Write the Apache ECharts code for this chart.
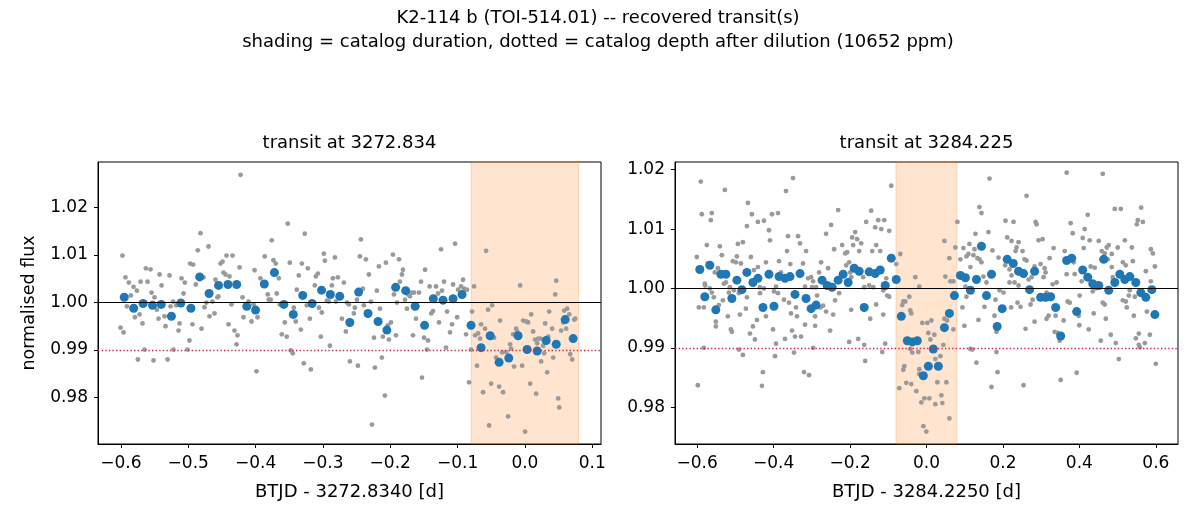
<!DOCTYPE html>
<html>
<head>
<meta charset="utf-8">
<script src="https://cdn.jsdelivr.net/npm/echarts@6/dist/echarts.min.js"></script>
<style>
  html, body {margin: 0; padding: 0; background: #fff;}
  #chart {width: 1196px; height: 520px;}
</style>
</head>
<body>
<div id="chart"></div>
<script>
const suptitle = "K2-114 b (TOI-514.01) -- recovered transit(s)\nshading = catalog duration, dotted = catalog depth after dilution (10652 ppm)";
const panel_titles = ["transit at 3272.834", "transit at 3284.225"];
const x_names = ["BTJD - 3272.8340 [d]", "BTJD - 3284.2250 [d]"];
const y_name = "normalised flux";

const catalog_depth_level = 0.989348;   // 1 - 10652 ppm
const half_duration = 0.0798;           // days

const left_x_ticks = [-0.6, -0.5, -0.4, -0.3, -0.2, -0.1, 0.0, 0.1];
const right_x_ticks = [-0.6, -0.4, -0.2, 0.0, 0.2, 0.4, 0.6];
const y_ticks = [0.98, 0.99, 1.00, 1.01, 1.02];

// raw cadences, first transit
const left_raw = [
  [-0.5977,1.0099],[-0.5932,1.0053],[-0.5882,1.0042],[-0.5852,1.0015],[-0.5911,0.9992],[-0.5812,1.0033],[-0.5763,1.0025],[-0.5793,0.9969],
  [-0.6006,0.9947],[-0.5961,0.9937],[-0.5723,0.9975],[-0.5708,1.0044],[-0.5679,0.9956],[-0.5629,1.0072],[-0.5560,1.0070],[-0.5604,1.0044],
  [-0.5545,1.0021],[-0.5500,1.0011],[-0.5649,0.9901],[-0.5748,0.9880],[-0.5515,0.9878],[-0.5466,0.9985],[-0.5441,0.9966],[-0.5426,1.0059],
  [-0.5396,1.0036],[-0.5352,0.9971],[-0.5337,0.9950],[-0.5307,0.9880],[-0.5278,1.0057],[-0.5263,0.9992],[-0.5224,1.0002],[-0.5219,0.9901],
  [-0.5179,0.9994],[-0.5144,0.9941],[-0.5129,0.9956],[-0.5100,1.0051],[-0.5070,1.0019],[-0.5051,1.0042],[-0.5011,0.9901],[-0.4982,0.9920],
  [-0.4972,1.0082],[-0.4927,1.0080],[-0.4937,0.9954],[-0.4887,1.0038],[-0.4858,1.0110],[-0.4818,1.0146],[-0.4773,1.0053],[-0.4803,0.9945],
  [-0.4759,0.9990],[-0.4729,1.0000],[-0.4699,1.0118],[-0.4684,0.9971],[-0.4640,1.0002],[-0.4610,0.9977],[-0.4595,1.0048],[-0.4566,1.0011],
  [-0.4551,1.0013],[-0.4521,1.0082],[-0.4491,1.0086],[-0.4476,1.0063],[-0.4447,1.0059],[-0.4432,1.0099],[-0.4402,0.9954],[-0.4387,1.0055],
  [-0.4357,0.9996],[-0.4342,1.0099],[-0.4313,0.9941],[-0.4268,0.9931],[-0.4283,0.9912],[-0.4238,1.0074],[-0.4223,1.0269],[-0.4194,1.0011],
  [-0.4179,0.9969],[-0.4104,1.0002],[-0.4060,0.9960],[-0.4030,0.9996],[-0.4015,1.0068],[-0.3986,0.9855],[-0.3971,0.9969],[-0.3928,1.0051],
  [-0.3864,1.0097],[-0.3819,1.0017],[-0.3804,1.0006],[-0.3775,1.0006],[-0.3760,1.0131],[-0.3735,1.0089],[-0.3700,1.0082],[-0.3685,1.0019],
  [-0.3655,1.0051],[-0.3640,0.9996],[-0.3611,0.9933],[-0.3566,0.9958],[-0.3537,0.9928],[-0.3522,1.0166],[-0.3492,1.0084],[-0.3477,0.9899],
  [-0.3447,0.9893],[-0.3432,0.9989],[-0.3403,0.9960],[-0.3388,1.0027],[-0.3358,1.0057],[-0.3328,0.9943],[-0.3313,1.0082],[-0.3284,0.9872],
  [-0.3269,1.0145],[-0.3239,0.9994],[-0.3224,1.0072],[-0.3194,0.9966],[-0.3179,0.9859],[-0.3120,1.0036],[-0.3105,1.0055],[-0.3075,1.0061],
  [-0.3060,0.9989],[-0.3031,0.9928],[-0.3016,0.9979],[-0.2986,1.0103],[-0.2971,1.0088],[-0.2941,1.0004],[-0.2911,1.0002],[-0.2896,0.9909],
  [-0.2867,1.0036],[-0.2852,1.0051],[-0.2822,1.0095],[-0.2807,1.0002],[-0.2778,1.0053],[-0.2718,0.9966],[-0.2689,1.0042],[-0.2659,0.9939],
  [-0.2644,1.0000],[-0.2614,0.9996],[-0.2599,0.9876],[-0.2540,0.9977],[-0.2525,0.9989],[-0.2495,1.0006],[-0.2480,0.9867],[-0.2451,1.0097],
  [-0.2436,1.0133],[-0.2406,1.0029],[-0.2391,0.9994],[-0.2361,1.0091],[-0.2317,1.0059],[-0.2287,1.0002],[-0.2272,0.9743],[-0.2242,0.9926],
  [-0.2228,0.9863],[-0.2198,1.0025],[-0.2168,1.0076],[-0.2153,0.9987],[-0.2124,0.9884],[-0.2109,0.9928],[-0.2079,0.9804],[-0.2064,1.0084],
  [-0.2035,0.9952],[-0.2020,0.9922],[-0.1990,0.9958],[-0.1960,1.0101],[-0.1945,1.0017],[-0.1915,0.9931],[-0.1900,1.0000],[-0.1870,1.0091],
  [-0.1856,1.0044],[-0.1826,1.0059],[-0.1811,1.0069],[-0.1781,1.0006],[-0.1751,0.9987],[-0.1736,1.0017],[-0.1707,1.0013],[-0.1677,1.0021],
  [-0.1662,0.9931],[-0.1647,1.0021],[-0.1618,0.9966],[-0.1573,1.0021],[-0.1543,1.0044],[-0.1528,0.9842],[-0.1498,0.9926],[-0.1483,1.0069],
  [-0.1454,0.9901],[-0.1439,0.9920],[-0.1415,1.0034],[-0.1390,0.9977],[-0.1365,0.9982],[-0.1320,1.0034],[-0.1290,1.0019],[-0.1276,0.9958],
  [-0.1246,1.0112],[-0.1231,1.0025],[-0.1201,1.0044],[-0.1156,0.9981],[-0.1172,0.9905],[-0.1112,0.9937],[-0.1082,0.9954],[-0.1067,1.0038],
  [-0.1037,1.0124],[-0.1007,0.9969],[-0.0992,1.0027],[-0.0948,1.0034],[-0.0919,1.0048],[-0.0904,1.0029],[-0.0874,0.9933],[-0.0859,1.0027],
  [-0.0830,0.9832],[-0.0800,0.9901],[-0.0785,0.9981],[-0.0755,1.0034],[-0.0740,0.9931],[-0.0711,0.9867],[-0.0696,0.9935],[-0.0666,0.9924],
  [-0.0651,0.9954],[-0.0621,0.9811],[-0.0592,0.9945],[-0.0577,1.0109],[-0.0547,0.9985],[-0.0532,0.9741],[-0.0502,0.9829],[-0.0487,0.9994],
  [-0.0458,0.9926],[-0.0428,0.9884],[-0.0383,0.9823],[-0.0368,0.9962],[-0.0339,0.9895],[-0.0324,0.9811],[-0.0279,0.9895],[-0.0249,0.9760],
  [-0.0220,0.9912],[-0.0205,0.9903],[-0.0175,0.9933],[-0.0160,0.9865],[-0.0130,0.9945],[-0.0116,0.9939],[-0.0071,1.0036],[-0.0041,0.9867],
  [-0.0026,0.9962],[0.0003,0.9728],[0.0018,0.9960],[0.0048,0.9958],[0.0078,0.9829],[0.0093,0.9975],[0.0122,0.9939],[0.0152,0.9922],
  [0.0167,0.9808],[0.0182,0.9914],[0.0197,0.9924],[0.0227,0.9924],[0.0241,0.9876],[0.0271,0.9909],[0.0286,0.9893],[0.0301,0.9956],
  [0.0331,0.9853],[0.0346,0.9928],[0.0360,0.9981],[0.0405,0.9945],[0.0420,0.9884],[0.0450,1.0017],[0.0465,1.0046],[0.0494,0.9798],
  [0.0509,0.9779],[0.0539,0.9941],[0.0569,0.9958],[0.0584,0.9983],[0.0613,0.9945],[0.0628,0.9987],[0.0658,0.9975],[0.0673,0.9891],
  [0.0702,0.9880],[0.0732,0.9964],[0.0747,0.9966]
];

// 20-min bins, first transit
const left_binned = [
  [-0.595,1.0011],[-0.581,0.9988],[-0.567,0.9998],[-0.553,0.9994],[-0.540,0.9996],[-0.525,0.9971],[-0.511,0.9999],[-0.496,0.9988],
  [-0.483,1.0054],[-0.469,1.0019],[-0.455,1.0036],[-0.441,1.0038],[-0.428,1.0038],[-0.413,0.9992],[-0.400,0.9984],[-0.387,1.0039],
  [-0.372,1.0063],[-0.358,0.9996],[-0.344,0.9975],[-0.330,1.0015],[-0.316,0.9998],[-0.302,1.0026],[-0.289,1.0017],[-0.275,1.0013],
  [-0.260,0.9958],[-0.247,1.0022],[-0.233,0.9977],[-0.218,0.9960],[-0.205,0.9942],[-0.192,1.0032],[-0.177,1.0025],[-0.163,0.9992],
  [-0.149,0.9952],[-0.136,1.0008],[-0.1216,1.0005],[-0.1067,1.0008],[-0.0934,1.0017],[-0.080,0.9952],[-0.0651,0.9905],[-0.0517,0.9930],
  [-0.0383,0.9874],[-0.0239,0.9883],[-0.0101,0.9930],[0.0033,0.9901],[0.0182,0.9898],[0.0316,0.9920],[0.0465,0.9912],[0.0598,0.9964],
  [0.0717,0.9924]
];

// raw cadences, second transit
const right_raw = [
  [-0.5905,1.0180],[-0.5879,1.0125],[-0.5617,1.0127],[-0.5643,1.0115],[-0.5276,1.0166],[-0.5747,1.0073],[-0.5406,1.0071],[-0.5354,1.0056],
  [-0.6010,1.0053],[-0.5721,1.0042],[-0.5459,1.0034],[-0.5538,1.0027],[-0.5800,1.0008],[-0.5790,1.0005],[-0.5669,1.0000],[-0.5617,0.9993],
  [-0.5564,0.9985],[-0.5826,0.9968],[-0.5957,0.9968],[-0.5433,0.9972],[-0.5328,0.9980],[-0.5512,0.9944],[-0.5512,0.9936],[-0.5197,0.9953],
  [-0.5118,0.9931],[-0.5092,0.9927],[-0.5826,0.9900],[-0.5983,0.9837],[-0.5302,1.0008],[-0.5249,1.0010],[-0.5144,1.0002],[-0.5066,1.0046],
  [-0.4987,1.0044],[-0.4961,1.0054],[-0.4935,1.0075],[-0.4804,1.0078],[-0.4856,1.0042],[-0.5170,0.9993],[-0.5039,0.9997],[-0.4909,0.9992],
  [-0.4699,0.9985],[-0.4725,0.9966],[-0.4882,0.9956],[-0.4673,1.0144],[-0.4568,1.0125],[-0.4699,1.0105],[-0.4410,1.0112],[-0.4253,1.0114],
  [-0.4594,1.0053],[-0.4515,1.0031],[-0.4410,1.0036],[-0.4357,1.0002],[-0.4357,0.9992],[-0.4200,1.0044],[-0.4253,1.0000],[-0.4541,0.9936],
  [-0.4489,0.9914],[-0.4620,0.9924],[-0.4436,0.9947],[-0.4200,0.9953],[-0.4909,0.9897],[-0.4804,0.9888],[-0.4279,0.9859],[-0.4305,0.9836],
  [-0.4122,1.0098],[-0.4095,1.0081],[-0.4043,1.0125],[-0.3886,1.0127],[-0.3859,1.0046],[-0.3807,1.0027],[-0.3938,1.0003],[-0.3886,0.9992],
  [-0.3990,0.9995],[-0.4016,0.9931],[-0.3938,0.9907],[-0.3964,0.9886],[-0.3676,1.0164],[-0.3493,1.0186],[-0.3624,1.0088],[-0.3650,1.0063],
  [-0.3563,1.0041],[-0.3729,0.9981],[-0.3597,0.9976],[-0.3545,0.9958],[-0.3702,0.9915],[-0.3519,0.9929],[-0.3466,0.9892],[-0.3414,0.9968],
  [-0.3388,0.9953],[-0.3361,1.0088],[-0.3309,1.0076],[-0.3151,1.0063],[-0.3230,1.0042],[-0.3178,1.0003],[-0.3099,1.0017],[-0.3020,1.0019],
  [-0.2994,1.0002],[-0.2863,0.9988],[-0.2967,1.0012],[-0.2758,1.0044],[-0.2810,1.0027],[-0.2889,1.0002],[-0.2775,0.9968],[-0.2705,0.9971],
  [-0.2627,0.9961],[-0.2574,1.0034],[-0.2496,1.0107],[-0.2627,1.0092],[-0.2417,1.0066],[-0.2312,1.0132],[-0.2286,0.9992],[-0.2391,0.9980],
  [-0.2443,0.9956],[-0.2522,0.9929],[-0.2915,0.9953],[-0.2915,0.9937],[-0.3178,0.9939],[-0.3283,0.9919],[-0.3440,0.9919],[-0.2967,0.9900],
  [-0.3204,0.9859],[-0.3073,0.9854],
  [-0.2207,1.0073],[-0.2128,1.0059],[-0.2076,1.0061],[-0.2102,1.0039],[-0.2024,1.0044],[-0.1998,1.0027],[-0.1971,1.0019],[-0.1945,1.0086],
  [-0.1919,1.0073],[-0.1866,1.0095],[-0.1814,1.0083],[-0.1761,1.0063],[-0.1709,1.0076],[-0.1656,1.0019],[-0.1630,1.0002],[-0.1578,1.0112],
  [-0.1499,1.0005],[-0.1447,1.0131],[-0.1420,1.0063],[-0.1394,1.0002],[-0.1342,1.0103],[-0.1316,1.0073],[-0.1263,1.0115],[-0.1211,1.0063],
  [-0.1184,1.0100],[-0.1106,1.0115],[-0.0975,1.0097],[-0.0922,1.0173],[-0.0975,0.9986],[-0.1027,0.9988],[-0.1132,0.9997],[-0.1053,1.0017],
  [-0.1132,0.9956],[-0.1316,0.9973],[-0.1473,0.9949],[-0.1630,0.9905],[-0.1604,0.9878],[-0.1788,0.9915],[-0.1971,0.9964],[-0.2024,0.9910],
  [-0.1080,0.9907],[-0.1158,0.9893],[-0.0791,1.0041],[-0.0686,1.0058],[-0.0634,0.9972],[-0.0607,0.9978],[-0.0555,0.9978],[-0.0450,0.9986],
  [-0.0424,0.9963],[-0.0398,0.9958],[-0.0293,1.0019],[-0.0188,1.0003],[-0.0581,0.9869],[-0.0607,0.9863],[-0.0712,0.9832],[-0.0529,0.9841],
  [-0.0398,0.9839],[-0.0267,0.9827],[-0.0188,0.9864],[-0.0188,0.9856],[-0.0135,0.9808],[-0.0057,0.9815],[0.0074,0.9815],[-0.0109,0.9942],
  [0.0022,0.9942],[0.0127,0.9946],[0.0048,0.9925],[0.0101,0.9914],[-0.0371,0.9892],[-0.0424,0.9898],[-0.0214,0.9893],[0.0205,0.9922],
  [0.0232,0.9881],[0.0363,0.9886],[0.0441,0.9905],[0.0284,0.9842],[0.0232,0.9805],[0.0389,0.9820],[0.0415,0.9807],[0.0520,0.9842],
  [0.0599,0.9781],[-0.0083,0.9768],[-0.0004,0.9759],[0.0468,0.9949],[0.0538,0.9946],[0.0494,1.0020],[0.0468,1.0080],[0.0599,1.0051],
  [0.0704,0.9931],[0.0756,1.0069],[0.0809,1.0112],[0.0704,1.0012],[0.0625,1.0012],[0.0887,1.0049],[0.0966,1.0068],[0.1045,1.0054],
  [0.1097,1.0058],[0.1123,1.0075],[0.1254,1.0066],[0.1228,1.0056],[0.1333,1.0051],[0.1385,1.0049],[0.1438,1.0044],[0.1281,1.0092],
  [0.1385,1.0137],[0.1438,1.0127],[0.1149,1.0036],[0.0940,1.0019],[0.1018,1.0003],[0.1045,0.9986],[0.0940,0.9968],[0.0992,0.9937],
  [0.1359,0.9947],[0.1517,0.9969],[0.1490,1.0020],[0.1569,1.0010],[0.1621,1.0095],[0.1648,1.0185],[0.1726,1.0064],[0.1805,0.9981],
  [0.1779,0.9954],[0.1884,1.0052],[0.1910,0.9997],[0.1831,0.9927],[0.1700,0.9834],[0.1307,0.9875],[0.1858,0.9859],[0.1149,0.9898],
  [0.1202,0.9897],[0.1831,0.9893],
  [0.2067,1.0114],[0.2277,1.0112],[0.2111,1.0086],[0.2225,1.0080],[0.2356,1.0069],[0.2408,1.0078],[0.2330,1.0063],[0.2513,1.0063],
  [0.2566,1.0049],[0.2618,1.0047],[0.2058,1.0039],[0.2172,1.0032],[0.2225,1.0022],[0.2303,1.0010],[0.2172,1.0010],[0.2408,1.0005],
  [0.2015,0.9993],[0.2216,0.9968],[0.2382,0.9976],[0.2461,0.9969],[0.2618,1.0156],[0.2592,0.9932],[0.2539,0.9837],[0.2828,0.9944],
  [0.2723,0.9973],[0.2776,0.9981],[0.2749,1.0019],[0.2670,1.0015],[0.2828,1.0037],[0.2854,1.0112],[0.2880,1.0108],[0.2932,1.0081],
  [0.3037,1.0083],[0.2985,1.0041],[0.3090,1.0034],[0.3116,1.0027],[0.3064,1.0019],[0.3142,0.9993],[0.3221,1.0051],[0.3326,1.0068],
  [0.3300,1.0007],[0.3405,1.0010],[0.3142,0.9949],[0.3195,0.9954],[0.3378,0.9954],[0.3352,0.9927],[0.3431,0.9925],[0.3484,0.9912],
  [0.3588,0.9946],[0.3693,0.9978],[0.3746,0.9976],[0.3615,1.0063],[0.3510,0.9846],[0.3667,1.0195],[0.3772,1.0110],[0.3824,1.0093],
  [0.3851,1.0044],[0.3877,1.0024],[0.3667,1.0024],[0.4008,0.9988],[0.3982,0.9954],[0.3999,0.9938],[0.3929,0.9858],[0.4060,1.0012],
  [0.4086,1.0085],[0.4113,1.0068],[0.4139,1.0100],[0.4218,1.0124],[0.4270,1.0081],[0.4296,1.0037],[0.4401,1.0035],[0.4427,1.0000],
  [0.4349,0.9995],[0.4244,0.9931],[0.4375,0.9958],[0.4506,1.0080],[0.4585,1.0063],[0.4559,0.9912],[0.4611,1.0193],[0.4663,1.0059],
  [0.4716,1.0069],[0.4742,1.0049],[0.4768,1.0073],[0.4847,1.0058],[0.4847,1.0036],[0.4873,1.0019],[0.4611,0.9976],[0.4663,0.9973],
  [0.4690,0.9949],[0.4821,0.9922],[0.4952,0.9908],[0.4926,1.0134],[0.5083,1.0134],[0.5031,0.9881],[0.5004,1.0069],[0.5188,1.0081],
  [0.5214,1.0039],[0.5136,1.0044],[0.5136,0.9980],[0.5214,0.9978],[0.5240,0.9968],[0.5293,0.9988],[0.5372,1.0069],[0.5398,1.0046],
  [0.5424,0.9954],[0.5476,0.9916],[0.5555,0.9924],[0.5555,0.9905],[0.5581,0.9901],[0.5616,1.0136],[0.5503,1.0108],[0.5529,1.0115],
  [0.5660,1.0112],[0.5712,0.9908],[0.5739,1.0029],[0.5765,0.9961],[0.5870,1.0066],[0.5922,1.0059],[0.5975,1.0037],[0.5870,1.0012],
  [0.5844,0.9922],[0.5999,0.9873],[0.5450,0.9986],[0.5319,0.9997]
];

// 20-min bins, second transit
const right_binned = [
  [-0.5931,1.0032],[-0.5800,0.9986],[-0.5669,1.0039],[-0.5512,0.9964],[-0.5380,1.0024],[-0.5249,1.0024],[-0.5092,0.9983],[-0.4961,1.0014],
  [-0.4830,0.9998],[-0.4699,1.0027],[-0.4541,1.0010],[-0.4410,1.0017],[-0.4279,0.9968],[-0.4122,1.0024],[-0.3990,0.9970],[-0.3859,1.0020],
  [-0.3702,1.0017],[-0.3571,1.0020],[-0.3440,0.9990],[-0.3309,1.0025],[-0.3151,0.9983],[-0.3020,0.9966],[-0.2889,0.9972],[-0.2732,1.0014],
  [-0.2600,1.0005],[-0.2469,1.0002],[-0.2312,1.0014],[-0.2181,1.0024],[-0.2050,1.0010],[-0.1893,1.0034],[-0.1761,1.0029],[-0.1630,0.9968],
  [-0.1500,1.0028],[-0.1342,1.0025],[-0.1211,1.0031],[-0.1080,1.0005],[-0.0922,1.0051],[-0.0791,1.0015],[-0.0660,0.9953],[-0.0503,0.9912],
  [-0.0371,0.9910],[-0.0240,0.9912],[-0.0083,0.9853],[0.0048,0.9869],[0.0179,0.9898],[0.0310,0.9869],[0.0468,0.9934],[0.0599,0.9958],
  [0.0730,0.9988],[0.0887,1.0022],[0.1018,1.0018],[0.1149,0.9997],[0.1307,1.0015],[0.1438,1.0071],[0.1569,0.9988],[0.1700,1.0024],
  [0.1849,0.9936],[0.1980,0.9966],[0.2111,1.0049],[0.2269,1.0042],[0.2408,1.0029],[0.2539,1.0025],[0.2697,0.9998],[0.2828,1.0029],
  [0.2985,0.9985],[0.3116,0.9985],[0.3247,0.9986],[0.3379,0.9968],[0.3510,0.9920],[0.3667,1.0047],[0.3798,1.0051],[0.3929,0.9961],
  [0.4086,1.0031],[0.4218,1.0019],[0.4349,1.0008],[0.4506,1.0005],[0.4637,1.0049],[0.4768,0.9997],[0.4926,1.0010],[0.5057,1.0024],
  [0.5188,1.0015],[0.5319,1.0020],[0.5476,1.0010],[0.5607,0.9993],[0.5739,0.9985],[0.5896,0.9998],[0.5975,0.9956]
];


const FONT = "DejaVu Sans";
const minus = (s) => s.replace("-", "\u2212");

function xAxisFor(grid_index, min, max, ticks, name){
    return {
        type: "value", gridIndex: grid_index, min, max,
        name, nameLocation: "middle", nameGap: 39,
        nameTextStyle: {fontFamily: FONT, fontSize: 18, color: "#000"},
        axisLine: {show: true, onZero: false, lineStyle: {color: "#000", width: 1}},
        axisTick: {show: true, length: 4, customValues: ticks, lineStyle: {color: "#000"}},
        axisLabel: {
            customValues: ticks, margin: 11,
            fontFamily: FONT, fontSize: 17, color: "#000",
            formatter: (v) => minus(v.toFixed(1))
        },
        splitLine: {show: false}
    };
}

function yAxisFor(grid_index, min, max, name){
    return {
        type: "value", gridIndex: grid_index, min, max,
        name, nameLocation: "middle", nameGap: 60,
        nameTextStyle: {fontFamily: FONT, fontSize: 17.5, color: "#000"},
        axisLine: {show: true, onZero: false, lineStyle: {color: "#000", width: 1}},
        axisTick: {show: true, length: 4, customValues: y_ticks, lineStyle: {color: "#000"}},
        axisLabel: {
            customValues: y_ticks, margin: 10,
            fontFamily: FONT, fontSize: 17, color: "#000",
            formatter: (v) => v.toFixed(2)
        },
        splitLine: {show: false}
    };
}

function panelSeries(idx, raw, binned){
    return [
        {   // catalog duration shading
            type: "scatter", xAxisIndex: idx, yAxisIndex: idx, data: [], z: 1, silent: true,
            markArea: {
                silent: true,
                itemStyle: {color: "rgba(255,127,14,0.2)", borderColor: "rgba(255,127,14,0.25)", borderWidth: 1},
                data: [[{xAxis: -half_duration}, {xAxis: half_duration}]]
            }
        },
        {
            type: "scatter", xAxisIndex: idx, yAxisIndex: idx, data: raw, z: 2,
            symbolSize: 4.8, itemStyle: {color: "#9a9a9a", opacity: 1}, silent: true
        },
        {   // reference levels
            type: "scatter", xAxisIndex: idx, yAxisIndex: idx, data: [], z: 3, silent: true,
            markLine: {
                silent: true, symbol: "none", label: {show: false}, animation: false,
                data: [
                    {yAxis: 1.0, lineStyle: {color: "#000", width: 1, type: "solid"}},
                    {yAxis: catalog_depth_level, lineStyle: {color: "#d62746", width: 1.4, type: [1.4, 2.2]}}
                ]
            }
        },
        {
            type: "scatter", xAxisIndex: idx, yAxisIndex: idx, data: binned, z: 4,
            symbolSize: 9, itemStyle: {color: "#1f77b4", opacity: 1}, silent: true
        }
    ];
}

const chart = echarts.init(document.getElementById("chart"), null, {renderer: "canvas"});
chart.setOption({
    animation: false,
    backgroundColor: "#fff",
    title: [
        {
            text: suptitle, left: 598, top: 6, padding: 0, textAlign: "center",
            textStyle: {fontFamily: FONT, fontSize: 18, fontWeight: "normal", color: "#000", lineHeight: 24}
        },
        {
            text: panel_titles[0], left: 349.5, top: 134, padding: 0, textAlign: "center",
            textStyle: {fontFamily: FONT, fontSize: 18, fontWeight: "normal", color: "#000"}
        },
        {
            text: panel_titles[1], left: 926.5, top: 134, padding: 0, textAlign: "center",
            textStyle: {fontFamily: FONT, fontSize: 18, fontWeight: "normal", color: "#000"}
        }
    ],
    grid: [
        {left: 98, top: 162, width: 503, height: 282, show: true, borderColor: "#000", borderWidth: 1, backgroundColor: "transparent"},
        {left: 675, top: 162, width: 503, height: 282, show: true, borderColor: "#000", borderWidth: 1, backgroundColor: "transparent"}
    ],
    xAxis: [
        xAxisFor(0, -0.634, 0.113, left_x_ticks, x_names[0]),
        xAxisFor(1, -0.658, 0.658, right_x_ticks, x_names[1])
    ],
    yAxis: [
        yAxisFor(0, 0.9702, 1.0296, y_name),
        yAxisFor(1, 0.9738, 1.0213, "")
    ],
    series: [
        ...panelSeries(0, left_raw, left_binned),
        ...panelSeries(1, right_raw, right_binned)
    ]
});
</script>
</body>
</html>
